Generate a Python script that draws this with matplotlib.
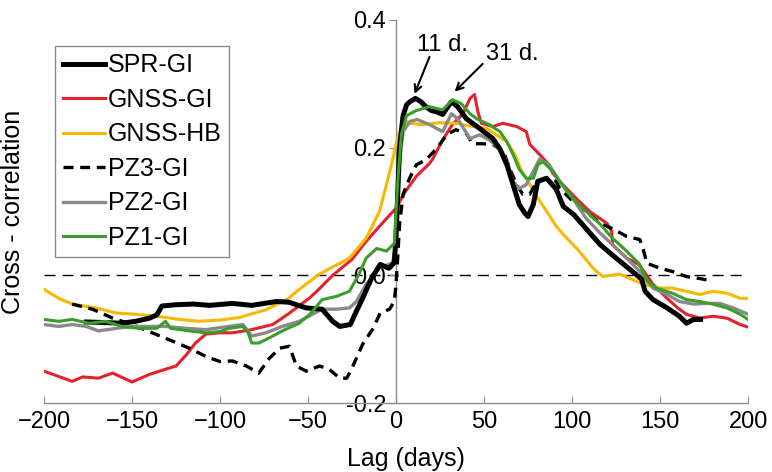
import numpy as np
import matplotlib
matplotlib.use('Agg')
import matplotlib.pyplot as plt

plt.rcParams['font.family'] = ['Liberation Sans', 'DejaVu Sans']

# Series (lag in days, cross-correlation)
spr_lag = [-176, -165, -156, -148, -140, -136, -133, -125, -115, -106, -93, -82, -68, -61, -51, -42, -36,
           -32, -26, -22.5, -19, -14, -9, -4, -1, 0, 2, 4, 6, 8, 11, 14, 17, 20, 23, 26.5, 29, 31.5, 35,
           40, 47.5, 55, 59, 63, 66.5, 70, 73, 75, 78, 80.5, 85.5, 91, 95, 101, 108, 116, 125, 133,
           139.5, 141.5, 146, 154, 161, 165, 169, 173]
spr_val = [-0.073, -0.074, -0.075, -0.072, -0.067, -0.062, -0.048, -0.046, -0.045, -0.047, -0.044, -0.047,
           -0.041, -0.042, -0.051, -0.053, -0.072, -0.080, -0.077, -0.056, -0.036, -0.005, 0.017, 0.011,
           0.02, 0.06, 0.20, 0.250, 0.267, 0.272, 0.277, 0.272, 0.264, 0.258, 0.256, 0.252, 0.262, 0.272,
           0.264, 0.245, 0.230, 0.214, 0.198, 0.173, 0.142, 0.111, 0.098, 0.092, 0.111, 0.147, 0.152,
           0.135, 0.108, 0.095, 0.073, 0.048, 0.027, 0.009, -0.006, -0.025, -0.038, -0.051, -0.064,
           -0.075, -0.069, -0.069]

gnss_gi_lag = [-200, -184, -178, -169, -161, -150, -140, -131, -125, -119, -114, -108, -100, -93, -82, -70,
               -61, -49, -45, -36, -25, -17, -9, 0, 5, 11.5, 19, 21, 26.5, 32, 38, 42, 44.6, 46.5, 48.5, 55,
               60.7, 68.5, 74, 76, 81.6, 87, 89, 93, 102.5, 110, 120, 122.5, 123, 131, 138, 146, 154,
               160, 165, 172.5, 180, 188, 195.5, 200]
gnss_gi_val = [-0.150, -0.166, -0.159, -0.161, -0.153, -0.167, -0.155, -0.147, -0.142, -0.124, -0.106,
               -0.092, -0.090, -0.090, -0.085, -0.077, -0.060, -0.035, -0.025, 0.0, 0.025, 0.053, 0.078,
               0.105, 0.130, 0.155, 0.175, 0.183, 0.212, 0.236, 0.253, 0.277, 0.283, 0.256, 0.238, 0.233,
               0.238, 0.233, 0.225, 0.205, 0.189, 0.173, 0.160, 0.147, 0.120, 0.100, 0.081, 0.069, 0.048,
               0.027, 0.017, -0.014, -0.036, -0.051, -0.061, -0.067, -0.064, -0.067, -0.077, -0.081]

gnss_hb_lag = [-200, -191, -184, -170.5, -159, -148, -136, -123, -112, -100, -89, -74, -61, -55, -43.5,
               -26.5, -17, -9.4, -5, -2, 0, 2, 6, 7.7, 15, 25, 34, 43.5, 51.5, 57, 63, 67.5, 71.4, 75,
               80, 85.6, 91, 95, 104, 112, 117.5, 127, 133, 140.5, 150, 157, 165, 172.5, 180, 188, 195.5,
               200]
gnss_hb_val = [-0.022, -0.037, -0.045, -0.051, -0.059, -0.061, -0.064, -0.069, -0.072, -0.070, -0.066,
               -0.054, -0.036, -0.022, 0.002, 0.027, 0.058, 0.100, 0.147, 0.180, 0.205, 0.225, 0.241,
               0.238, 0.236, 0.239, 0.238, 0.233, 0.230, 0.220, 0.209, 0.189, 0.163, 0.147, 0.123, 0.100,
               0.077, 0.064, 0.038, 0.011, -0.002, 0.002, -0.005, -0.014, -0.020, -0.020, -0.025, -0.030,
               -0.025, -0.028, -0.036, -0.036]

pz3_lag = [-184, -172.5, -161, -150, -138.5, -127, -117.5, -108, -100, -93, -85, -78, -72, -66, -60.6,
           -56.6, -51, -43.5, -38, -32, -28, -25, -19, -13, -9, -3.7, -1, 0, 1, 2, 4, 7.7, 11.5, 17, 23,
           28.7, 34, 40, 43.5, 49, 55, 61, 64.6, 68.5, 72, 76, 80, 85.6, 91, 93, 100.5, 108, 116, 123,
           131, 138.5, 140.5, 142.5, 150, 157, 165, 172.5, 180]
pz3_val = [-0.045, -0.053, -0.067, -0.077, -0.090, -0.103, -0.114, -0.127, -0.135, -0.134, -0.142, -0.153,
           -0.130, -0.114, -0.111, -0.142, -0.150, -0.142, -0.147, -0.161, -0.161, -0.145, -0.108, -0.083,
           -0.059, -0.053, -0.041, -0.014, 0.03, 0.08, 0.127, 0.152, 0.173, 0.181, 0.198, 0.220, 0.228,
           0.222, 0.206, 0.206, 0.205, 0.194, 0.167, 0.142, 0.127, 0.127, 0.147, 0.152, 0.147, 0.136,
           0.116, 0.100, 0.081, 0.073, 0.061, 0.056, 0.040, 0.019, 0.011, 0.006, -0.002, -0.005, -0.009]

pz2_lag = [-200, -191.5, -184, -176, -169, -159, -150, -140, -131, -119, -108, -95, -87, -82, -74, -64.6,
           -55, -47.5, -42, -34, -26.5, -22.5, -17, -13, -11, -2, 0, 1, 4, 8, 12, 19, 26.5, 31.5, 35, 42,
           47.5, 53, 59, 63, 66.5, 70, 74, 78, 81.6, 87, 93, 100.5, 108, 116, 123, 131, 138.5, 146, 154,
           161, 169, 176.5, 184, 191.5, 200]
pz2_val = [-0.077, -0.080, -0.077, -0.080, -0.087, -0.083, -0.080, -0.080, -0.080, -0.083, -0.085, -0.080,
           -0.077, -0.095, -0.090, -0.080, -0.072, -0.061, -0.053, -0.053, -0.051, -0.041, -0.014, -0.002,
           0.011, 0.019, 0.05, 0.15, 0.225, 0.241, 0.244, 0.236, 0.225, 0.253, 0.245, 0.214, 0.220, 0.212,
           0.198, 0.178, 0.147, 0.136, 0.142, 0.163, 0.182, 0.173, 0.147, 0.120, 0.089, 0.066, 0.048,
           0.027, 0.006, -0.020, -0.030, -0.041, -0.045, -0.044, -0.044, -0.051, -0.061]

pz1_lag = [-200, -191.5, -184, -174.5, -165, -155.6, -146, -136, -131, -128, -117.5, -108, -100, -95, -87,
           -84, -82, -78, -72, -64.6, -55, -49, -45, -42, -34, -26.5, -21, -17, -11, -5.4, -1, 1,
           3, 6, 11.5, 19, 26.5, 32, 37, 42, 46.5, 53, 59, 63, 66.5, 70, 74, 78, 80.6, 83.4, 89, 93,
           100.5, 108, 116, 123, 131, 138.5, 142.5, 148, 157, 165, 172.5, 180, 188, 195.5, 200]
pz1_val = [-0.069, -0.072, -0.069, -0.075, -0.072, -0.080, -0.083, -0.083, -0.072, -0.083, -0.087, -0.090,
           -0.088, -0.083, -0.080, -0.090, -0.106, -0.106, -0.098, -0.087, -0.075, -0.061, -0.048, -0.038,
           -0.033, -0.025, 0.002, 0.027, 0.042, 0.038, 0.05, 0.147, 0.22, 0.250, 0.258,
           0.264, 0.259, 0.275, 0.269, 0.253, 0.244, 0.236, 0.225, 0.209, 0.189, 0.166, 0.152, 0.152,
           0.173, 0.178, 0.163, 0.147, 0.120, 0.100, 0.080, 0.058, 0.038, 0.017, -0.009, -0.020, -0.028,
           -0.038, -0.041, -0.045, -0.051, -0.061, -0.069]

x_ticks = [-200, -150, -100, -50, 0, 50, 100, 150, 200]
y_ticks = [-0.2, 0.0, 0.2, 0.4]

fig = plt.figure(figsize=(7.72, 4.72), dpi=100)
ax = fig.add_axes([0.057, 0.146, 0.912, 0.812])

ax.axhline(0, color='black', lw=1.0, dashes=(8, 5), zorder=1)

ax.plot(spr_lag, spr_val, color='black', lw=3.6, label='SPR-GI', zorder=6)
ax.plot(gnss_gi_lag, gnss_gi_val, color='#e3222b', lw=2.2, label='GNSS-GI', zorder=3)
ax.plot(gnss_hb_lag, gnss_hb_val, color='#f6b800', lw=2.2, label='GNSS-HB', zorder=3)
ax.plot(pz3_lag, pz3_val, color='black', lw=2.4, dashes=(3, 2), label='PZ3-GI', zorder=4)
ax.plot(pz2_lag, pz2_val, color='#8a8a8a', lw=2.4, label='PZ2-GI', zorder=5)
ax.plot(pz1_lag, pz1_val, color='#3a9e2b', lw=2.2, label='PZ1-GI', zorder=7)

ax.set_xlim(-200, 200)
ax.set_ylim(-0.2, 0.4)
ax.set_xticks(x_ticks)
ax.set_yticks(y_ticks)
ax.set_yticklabels(['-0.2', '0.0', '0.2', '0.4'])

ax.spines['top'].set_visible(False)
ax.spines['right'].set_visible(False)
ax.spines['left'].set_position(('data', 0))
for s in ['left', 'bottom']:
    ax.spines[s].set_color('#8c8c8c')
    ax.spines[s].set_linewidth(1.0)
ax.tick_params(axis='x', direction='in', length=5, color='#8c8c8c', labelsize=17, pad=6)
ax.tick_params(axis='y', direction='out', length=5, color='#8c8c8c', labelsize=17, pad=2)

ax.set_xlabel('Lag (days)', fontsize=18)
ax.set_ylabel('Cross - correlation', fontsize=18)
ax.xaxis.set_label_coords(0.514, -0.115)
ax.yaxis.set_label_coords(-0.027, 0.5)

# Peak annotations: text and arrows
ax.text(26.5, 0.361, '11 d.', fontsize=17, ha='center', va='center')
ax.text(66, 0.347, '31 d.', fontsize=17, ha='center', va='center')
arrow = dict(arrowstyle='->,head_length=0.5,head_width=0.25', color='black', lw=1.5,
             shrinkA=0, shrinkB=0)
ax.annotate('', xy=(10.5, 0.284), xytext=(19, 0.342), arrowprops=arrow)
ax.annotate('', xy=(33.3, 0.2875), xytext=(49.2, 0.331), arrowprops=arrow)

leg = ax.legend(loc='upper left', bbox_to_anchor=(0.016, 0.932), borderaxespad=0, fontsize=18,
                handlelength=1.7, handletextpad=0.1, labelspacing=0.42, borderpad=0.3,
                fancybox=False, frameon=True)
leg.get_frame().set_edgecolor('#6e6e6e')
leg.get_frame().set_linewidth(1.0)
leg.set_zorder(10)

fig.savefig('out.png', dpi=100)
